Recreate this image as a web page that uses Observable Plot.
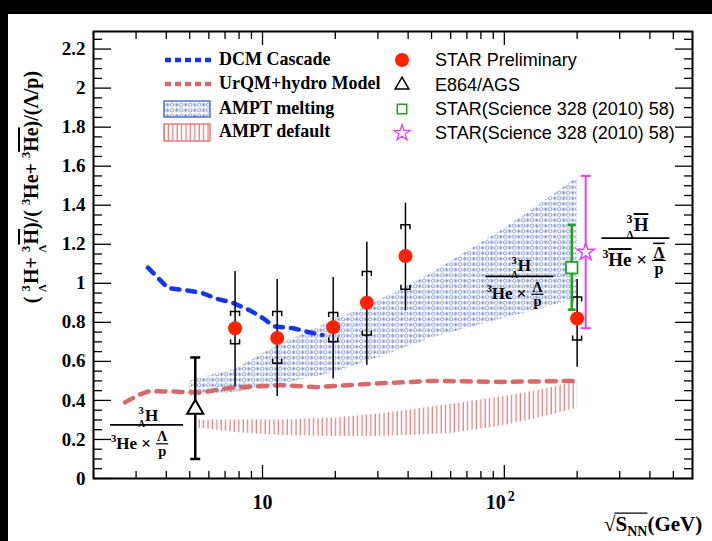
<!DOCTYPE html>
<html>
<head>
<meta charset="utf-8">
<script src="https://cdn.jsdelivr.net/npm/d3@7"></script>
<script src="https://cdn.jsdelivr.net/npm/@observablehq/plot@0.6"></script>
<style>
html, body { margin:0; padding:0; background:#000; width:712px; height:541px; overflow:hidden; }
#chart { position:absolute; left:8px; top:14px; width:704px; height:527px; background:#fff; }
#chart svg { display:block; }
</style>
</head>
<body>
<div id="chart"></div>
<script>
const SERIF = "'Liberation Serif','Times New Roman',Times,serif";
const SANS = "'Liberation Sans',Arial,Helvetica,sans-serif";

// ---------- data ----------
// STAR Preliminary (red dots)
const starX = [7.7, 11.5, 19.6, 27, 39, 200];
const starY = [0.77, 0.72, 0.775, 0.90, 1.14, 0.82];
const starStatLo = [0.47, 0.42, 0.51, 0.58, 0.86, 0.57];
const starStatHi = [1.06, 1.02, 1.03, 1.21, 1.41, 1.02];
const starSysLo = [0.69, 0.59, 0.70, 0.735, 0.97, 0.71];
const starSysHi = [0.855, 0.855, 0.85, 1.06, 1.30, 0.93];
// E864/AGS (open triangle)
const e864X = [5.27];
const e864Y = [0.355];
const e864Lo = [0.10];
const e864Hi = [0.62];
// STAR(Science 328 (2010) 58) green square
const sciBoxX = [190];
const sciBoxY = [1.08];
const sciBoxLo = [0.865];
const sciBoxHi = [1.30];
// STAR(Science 328 (2010) 58) magenta star
const sciStarX = [217];
const sciStarY = [1.16];
const sciStarLo = [0.77];
const sciStarHi = [1.55];
// DCM Cascade
const dcmX = [3.36, 4.07, 4.79, 5.64, 6.5, 7.52, 8.9, 10.1, 11.1, 13.4, 16.1, 17.7];
const dcmY = [1.08, 0.975, 0.965, 0.95, 0.92, 0.90, 0.86, 0.82, 0.78, 0.77, 0.745, 0.735];
// UrQM+hydro Model
const urqmX = [2.7, 3.1, 3.4, 4.4, 5.5, 7.4, 11.9, 16.9, 26, 50, 97, 195];
const urqmY = [0.39, 0.43, 0.447, 0.445, 0.44, 0.465, 0.478, 0.468, 0.483, 0.50, 0.495, 0.50];
// AMPT melting band
const meltX = [5.0, 7.7, 11.5, 19.6, 27, 39, 50, 100, 200];
const meltLo = [0.42, 0.44, 0.48, 0.54, 0.60, 0.67, 0.72, 0.82, 0.92];
const meltHi = [0.50, 0.56, 0.68, 0.81, 0.88, 0.98, 1.05, 1.28, 1.54];
// AMPT default band
const defX = [5.3, 8, 12, 20, 30, 40, 60, 100, 150, 200];
const defLo = [0.26, 0.235, 0.22, 0.215, 0.215, 0.22, 0.23, 0.27, 0.32, 0.36];
const defHi = [0.30, 0.30, 0.30, 0.31, 0.33, 0.35, 0.38, 0.42, 0.46, 0.50];
// ticks
const yMajor = [0, 0.2, 0.4, 0.6, 0.8, 1, 1.2, 1.4, 1.6, 1.8, 2, 2.2];
const yMinor = d3.range(0, 46).map(i => +(i * 0.05).toFixed(2)).filter(v => Math.round(v * 100) % 20 !== 0);
const xMajor = [10, 100];
const xMinor = [2, 3, 4, 5, 6, 7, 8, 9, 20, 30, 40, 50, 60, 70, 80, 90, 200, 300, 400, 500];
const xTickText = ["10", "10"];
const xTickExp = ["", "2"];
// legend
const legendLeft = ["DCM Cascade", "UrQM+hydro Model", "AMPT melting", "AMPT default"];
const legendRight = ["STAR Preliminary", "E864/AGS", "STAR(Science 328 (2010) 58)", "STAR(Science 328 (2010) 58)"];
// annotation anchors (fraction bars)
const noteX = [3.33, 116, 350];
const noteY = [0.272, 1.033, 1.229];

// ---------- tables ----------
const rows = (xs, cols) => xs.map((x, i) => { const o = {x}; for (const k in cols) o[k] = cols[k][i]; return o; });
const star = rows(starX, {y: starY, lo: starStatLo, hi: starStatHi, slo: starSysLo, shi: starSysHi});
const e864 = rows(e864X, {y: e864Y, lo: e864Lo, hi: e864Hi});
const sciBox = rows(sciBoxX, {y: sciBoxY, lo: sciBoxLo, hi: sciBoxHi});
const sciStar = rows(sciStarX, {y: sciStarY, lo: sciStarLo, hi: sciStarHi});
const dcm = rows(dcmX, {y: dcmY});
const urqm = rows(urqmX, {y: urqmY});
const melt = rows(meltX, {lo: meltLo, hi: meltHi});
const defBand = rows(defX, {lo: defLo, hi: defHi});

const capSymbol = w => ({draw(ctx) { ctx.moveTo(-w / 2, 0); ctx.lineTo(w / 2, 0); }});
const bracketTop = {draw(ctx) { ctx.moveTo(-4.5, 4.5); ctx.lineTo(-4.5, 0); ctx.lineTo(4.5, 0); ctx.lineTo(4.5, 4.5); }};
const bracketBot = {draw(ctx) { ctx.moveTo(-4.5, -4.5); ctx.lineTo(-4.5, 0); ctx.lineTo(4.5, 0); ctx.lineTo(4.5, -4.5); }};

const tickStyle = {stroke: "#000", strokeWidth: 1.3, fill: "none", label: null};
const GREEN = "#23a023", MAGENTA = "#f03cf0", RED = "#ff2200", BLUE = "#1636ee", PINK = "#d96868";

const plot = Plot.plot({
  width: 704, height: 527,
  marginLeft: 85, marginRight: 20, marginTop: 17, marginBottom: 63,
  x: {type: "log", domain: [2, 600]},
  y: {domain: [0, 2.29]},
  style: {fontFamily: SERIF, background: "#fff", overflow: "visible"},
  marks: [
    Plot.areaY(melt, {x: "x", y1: "lo", y2: "hi", fill: "url(#meltPat)"}),
    Plot.areaY(defBand, {x: "x", y1: "lo", y2: "hi", fill: "url(#defPat)"}),
    Plot.line(urqm, {x: "x", y: "y", stroke: PINK, strokeWidth: 4.5, strokeDasharray: "9,8"}),
    Plot.line(dcm, {x: "x", y: "y", stroke: BLUE, strokeWidth: 4.5, strokeDasharray: "8,8"}),
    // STAR preliminary
    Plot.ruleX(star, {x: "x", y1: "lo", y2: "hi", stroke: "#000", strokeWidth: 1.5}),
    Plot.dot(star, {x: "x", y: "shi", symbol: bracketTop, r: 5, stroke: "#000", strokeWidth: 1.5, fill: "none"}),
    Plot.dot(star, {x: "x", y: "slo", symbol: bracketBot, r: 5, stroke: "#000", strokeWidth: 1.5, fill: "none"}),
    Plot.dot(star, {x: "x", y: "y", r: 7, fill: RED, stroke: "none"}),
    // E864
    Plot.ruleX(e864, {x: "x", y1: "lo", y2: "hi", stroke: "#000", strokeWidth: 2.5}),
    Plot.dot(e864, {x: "x", y: "lo", symbol: capSymbol(10), r: 5, stroke: "#000", strokeWidth: 2.5, fill: "none"}),
    Plot.dot(e864, {x: "x", y: "hi", symbol: capSymbol(10), r: 5, stroke: "#000", strokeWidth: 2.5, fill: "none"}),
    Plot.dot(e864, {x: "x", y: "y", symbol: "triangle", r: 6, stroke: "#000", strokeWidth: 2, fill: "#fff"}),
    // STAR Science square
    Plot.ruleX(sciBox, {x: "x", y1: "lo", y2: "hi", stroke: GREEN, strokeWidth: 2.5}),
    Plot.dot(sciBox, {x: "x", y: "lo", symbol: capSymbol(8), r: 5, stroke: GREEN, strokeWidth: 2.5, fill: "none"}),
    Plot.dot(sciBox, {x: "x", y: "hi", symbol: capSymbol(8), r: 5, stroke: GREEN, strokeWidth: 2.5, fill: "none"}),
    Plot.dot(sciBox, {x: "x", y: "y", symbol: "square", r: 6.5, stroke: GREEN, strokeWidth: 1.8, fill: "#fff"}),
    // STAR Science star
    Plot.ruleX(sciStar, {x: "x", y1: "lo", y2: "hi", stroke: MAGENTA, strokeWidth: 2}),
    Plot.dot(sciStar, {x: "x", y: "lo", symbol: capSymbol(10), r: 5, stroke: MAGENTA, strokeWidth: 2, fill: "none"}),
    Plot.dot(sciStar, {x: "x", y: "hi", symbol: capSymbol(10), r: 5, stroke: MAGENTA, strokeWidth: 2, fill: "none"}),
    Plot.dot(sciStar, {x: "x", y: "y", symbol: "star", r: 5.5, stroke: MAGENTA, strokeWidth: 1.5, fill: "#fff"}),
    Plot.frame({stroke: "#000", strokeWidth: 2}),
    // inward ticks on all four sides
    Plot.axisY({anchor: "left", ticks: yMajor, tickSize: -18, ...tickStyle}),
    Plot.axisY({anchor: "left", ticks: yMinor, tickSize: -9, ...tickStyle}),
    Plot.axisY({anchor: "right", ticks: yMajor, tickSize: -18, ...tickStyle}),
    Plot.axisY({anchor: "right", ticks: yMinor, tickSize: -9, ...tickStyle}),
    Plot.axisX({anchor: "bottom", ticks: xMajor, tickSize: -13, ...tickStyle}),
    Plot.axisX({anchor: "bottom", ticks: xMinor, tickSize: -7, ...tickStyle}),
    Plot.axisX({anchor: "top", ticks: xMajor, tickSize: -13, ...tickStyle}),
    Plot.axisX({anchor: "top", ticks: xMinor, tickSize: -7, ...tickStyle}),
    // tick labels
    Plot.axisY({anchor: "left", ticks: yMajor, tickSize: 0, tickPadding: 8, tickFormat: d => String(d),
      fontSize: 19, fontWeight: "bold", fontFamily: SERIF, fill: "#000", label: null}),
    Plot.axisX({anchor: "bottom", ticks: xMajor, tickSize: 0, tickPadding: 16, tickFormat: d => xTickText[xMajor.indexOf(d)],
      fontSize: 20, fontWeight: "bold", fontFamily: SERIF, fill: "#000", label: null})
  ]
});
document.getElementById("chart").appendChild(plot);

const svg = d3.select(plot);
const xs = plot.scale("x"), ys = plot.scale("y");
const X = v => xs.apply(v), Y = v => ys.apply(v);

// exponent on the 10^2 tick label
svg.selectAll("g[aria-label='x-axis tick label'] text").each(function (d, i) {
  const e = xTickExp[i];
  if (e) {
    d3.select(this).attr("dx", (+d3.select(this).attr("dx") || 0) - 4);
    d3.select(this).append("tspan").attr("font-size", 14).attr("dy", "-0.55em").attr("dx", 2).text(e);
  }
});

// ---------- patterns ----------
const defs = svg.insert("defs", ":first-child");
const mp = defs.append("pattern").attr("id", "meltPat").attr("patternUnits", "userSpaceOnUse").attr("width", 9).attr("height", 5.5);
const MC = "#7790cc";
mp.append("circle").attr("cx", 2.2).attr("cy", 2.75).attr("r", 1.7).attr("fill", "none").attr("stroke", MC).attr("stroke-width", 0.85);
{
  const ax = 6.7, ay = 2.75, ar = 2, ad = 1.4;
  mp.append("path").attr("d", `M${ax - ar},${ay}H${ax + ar}M${ax},${ay - ar}V${ay + ar}M${ax - ad},${ay - ad}L${ax + ad},${ay + ad}M${ax - ad},${ay + ad}L${ax + ad},${ay - ad}`)
    .attr("stroke", MC).attr("stroke-width", 0.75).attr("fill", "none");
}
const dp = defs.append("pattern").attr("id", "defPat").attr("patternUnits", "userSpaceOnUse").attr("width", 4.4).attr("height", 10);
dp.append("line").attr("x1", 2).attr("x2", 2).attr("y1", 0).attr("y2", 10).attr("stroke", "#e77878").attr("stroke-width", 1.2);

// ---------- rich text helpers ----------
function prescript(t, fs, base, over) {
  t.append("tspan").attr("font-size", fs * 0.62).attr("dy", -fs * 0.42).text("3");
  t.append("tspan").attr("font-size", fs * 0.55).attr("dx", -fs * 0.33).attr("dy", fs * 0.8).text("Λ");
  const h = t.append("tspan").attr("font-size", fs).attr("dy", -fs * 0.38).text(base);
  if (over) h.style("text-decoration", "overline");
  return h;
}
function sup3(t, fs, base, over) {
  t.append("tspan").attr("font-size", fs * 0.62).attr("dy", -fs * 0.42).text("3");
  const h = t.append("tspan").attr("font-size", fs).attr("dy", fs * 0.42).text(base);
  if (over) h.style("text-decoration", "overline");
  return h;
}
function fraction(cx, cy, o) {
  const {fs, w, numOver, denOver, numOff, denOff} = o;
  const g = svg.append("g").attr("font-family", SERIF).attr("font-weight", "bold").attr("fill", "#000");
  g.append("line").attr("x1", cx - w / 2).attr("x2", cx + w / 2).attr("y1", cy).attr("y2", cy).attr("stroke", "#000").attr("stroke-width", 1.6);
  const num = g.append("text").attr("x", cx + fs * 0.1).attr("y", cy + numOff).attr("text-anchor", "middle").attr("font-size", fs);
  prescript(num, fs, "H", numOver);
  const x0 = cx - w / 2 + 1;
  const den = g.append("text").attr("x", x0).attr("y", cy + denOff).attr("text-anchor", "start").attr("font-size", fs);
  sup3(den, fs, "He", denOver);
  den.append("tspan").attr("font-size", fs).text(" ×");
  const L = den.node().getComputedTextLength();
  const sx = x0 + L + 5, sw = fs * 0.72, sfs = fs * 0.85, mid = sx + sw / 2;
  const la = g.append("text").attr("x", mid).attr("y", cy + denOff - fs * 0.45).attr("text-anchor", "middle").attr("font-size", sfs).text("Λ");
  if (denOver) la.style("text-decoration", "overline");
  g.append("line").attr("x1", sx).attr("x2", sx + sw).attr("y1", cy + denOff - fs * 0.3).attr("y2", cy + denOff - fs * 0.3).attr("stroke", "#000").attr("stroke-width", 1.2);
  const pp = g.append("text").attr("x", mid).attr("y", cy + denOff + fs * 0.4).attr("text-anchor", "middle").attr("font-size", sfs).text("p");
  if (denOver) pp.style("text-decoration", "overline");
}
fraction(X(noteX[0]), Y(noteY[0]), {fs: 17, w: 73, numOff: -4, denOff: 24});
fraction(X(noteX[1]), Y(noteY[1]), {fs: 17, w: 68, numOff: -5, denOff: 23});
fraction(X(noteX[2]), Y(noteY[2]), {fs: 19, w: 68, numOver: true, denOver: true, numOff: -7, denOff: 28});

// ---------- y-axis title ----------
{
  const yl = svg.append("text").attr("transform", "translate(30,173) rotate(-90)").attr("text-anchor", "middle")
    .attr("font-family", SERIF).attr("font-weight", "bold").attr("font-size", 20).attr("fill", "#000");
  yl.append("tspan").text("( ");
  prescript(yl, 20, "H");
  yl.append("tspan").text("+ ");
  prescript(yl, 20, "H", true);
  yl.append("tspan").text(")/( ");
  sup3(yl, 20, "He");
  yl.append("tspan").text("+ ");
  sup3(yl, 20, "He", true);
  yl.append("tspan").text(")/(Λ/p)");
}

// ---------- x-axis title ----------
{
  const bx = 596, by = 517, fs = 21;
  const xt = svg.append("text").attr("x", bx).attr("y", by).attr("text-anchor", "start").attr("font-family", SERIF).attr("font-weight", "bold").attr("font-size", fs).attr("fill", "#000");
  const t1 = xt.append("tspan").text("√");
  const t2 = xt.append("tspan").text("S");
  const t3 = xt.append("tspan").attr("font-size", 14).attr("dy", 5).text("NN");
  xt.append("tspan").attr("dy", -5).text("(GeV)");
  const a = bx + t1.node().getComputedTextLength() - 1;
  const b = bx + t1.node().getComputedTextLength() + t2.node().getComputedTextLength() + t3.node().getComputedTextLength();
  svg.append("line").attr("x1", a).attr("x2", b).attr("y1", by - fs * 0.85).attr("y2", by - fs * 0.85).attr("stroke", "#000").attr("stroke-width", 1.3);
}

// ---------- legend ----------
{
  const g = svg.append("g").attr("text-anchor", "start");
  const lx = 157, lw = 46, tx = 211;
  const ly = [46, 70, 95, 118];
  g.append("line").attr("x1", lx).attr("x2", lx + lw).attr("y1", ly[0]).attr("y2", ly[0]).attr("stroke", BLUE).attr("stroke-width", 4.5).attr("stroke-dasharray", "6,4");
  g.append("line").attr("x1", lx).attr("x2", lx + lw).attr("y1", ly[1]).attr("y2", ly[1]).attr("stroke", PINK).attr("stroke-width", 4.5).attr("stroke-dasharray", "6,4");
  g.append("rect").attr("x", lx - 1).attr("y", ly[2] - 8).attr("width", lw).attr("height", 16).attr("fill", "url(#meltPat)").attr("stroke", "#3b5ccc").attr("stroke-width", 1.3);
  g.append("rect").attr("x", lx - 1).attr("y", ly[3] - 8).attr("width", lw).attr("height", 17).attr("fill", "url(#defPat)").attr("stroke", "#e06a6a").attr("stroke-width", 1.3);
  legendLeft.forEach((s, i) => g.append("text").attr("x", tx).attr("y", ly[i] + 5).attr("text-anchor", "start").attr("font-family", SERIF).attr("font-weight", "bold").attr("font-size", 18).attr("fill", "#000").text(s));

  const mx = 394, my = [46, 71, 95, 119], rtx = 427;
  const sym = (type, r) => d3.symbol(type, r * r * Math.PI)();
  g.append("circle").attr("cx", mx).attr("cy", my[0]).attr("r", 7).attr("fill", RED);
  g.append("path").attr("transform", `translate(${mx},${my[1]})`).attr("d", sym(d3.symbolTriangle2, 6.5)).attr("fill", "none").attr("stroke", "#000").attr("stroke-width", 1.5);
  g.append("path").attr("transform", `translate(${mx},${my[2]})`).attr("d", sym(d3.symbolSquare2, 6)).attr("fill", "none").attr("stroke", GREEN).attr("stroke-width", 1.5);
  g.append("path").attr("transform", `translate(${mx},${my[3]})`).attr("d", sym(d3.symbolStar, 5)).attr("fill", "none").attr("stroke", MAGENTA).attr("stroke-width", 1.3);
  legendRight.forEach((s, i) => g.append("text").attr("x", rtx).attr("y", my[i] + 6).attr("text-anchor", "start").attr("font-family", SANS).attr("font-size", 18).attr("fill", "#000").text(s));
}
</script>
</body>
</html>
